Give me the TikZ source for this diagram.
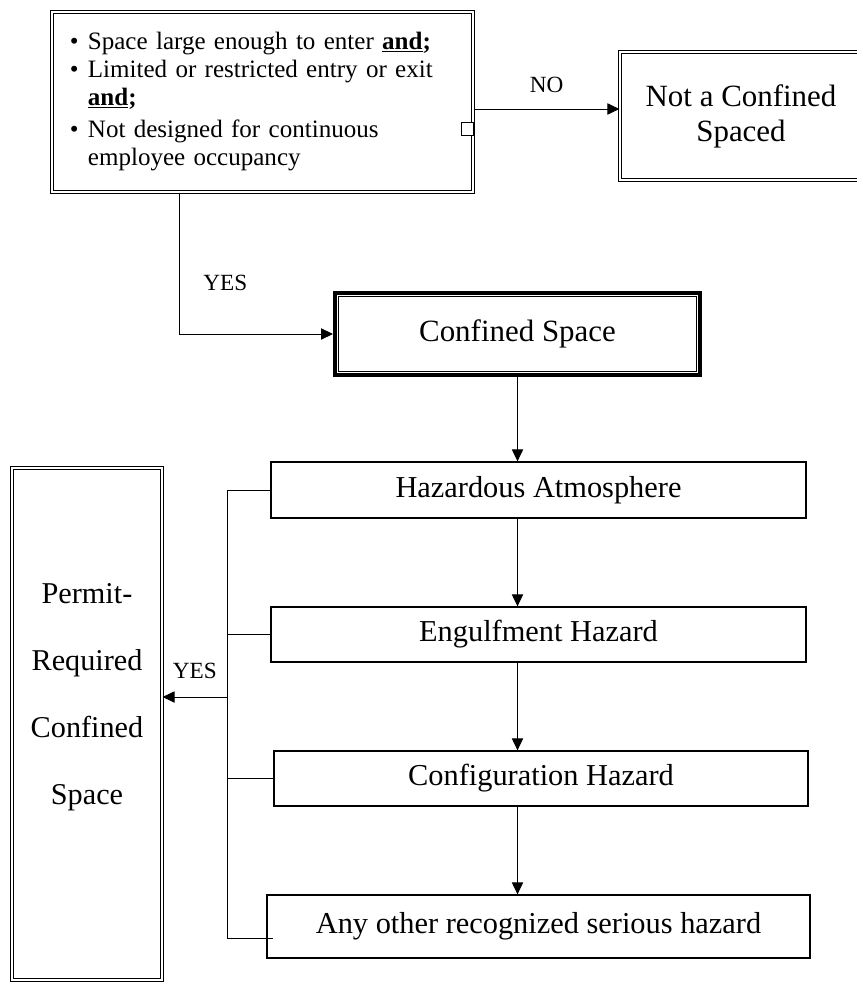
\documentclass[tikz,border=0pt]{standalone}
\usepackage{fontspec}
\setmainfont{Liberation Serif}
\usepackage{tikz}
\usetikzlibrary{arrows.meta, positioning, calc}

\begin{document}
\begin{tikzpicture}[
    x=0.025cm, y=-0.025cm,
    arr/.style={-{Triangle[length=8.5pt, width=8pt]}, line width=0.7pt},
    link/.style={line width=0.7pt},
    twoline/.style={draw, double, line width=0.8pt, double distance=1pt},
    hazard/.style={draw, line width=0.9pt, minimum height=1.4cm, align=center,
                   font=\fontsize{21.6}{25}\selectfont},
    tag/.style={font=\fontsize{16.5}{19}\selectfont, inner sep=1pt},
  ]
    \useasboundingbox (0,0) rectangle (856,983);

    \node[twoline, minimum width=10.525cm, minimum height=4.5cm, inner xsep=0.45cm,
          text width=9.625cm, align=left, font=\fontsize{17.8}{20}\selectfont]
          (cond) at (262.5,102)
      {\begin{tabular}{@{}p{0.45cm}@{}l@{}}
         \textbullet & Space large enough to enter \textbf{\underline{and};}\\
         \textbullet & Limited or restricted entry or exit\\
                     & \textbf{\underline{and};}\\[3pt]
         \textbullet & Not designed for continuous\\
                     & employee occupancy
       \end{tabular}};
    \draw[fill=white, line width=0.6pt] ([shift={(-0.3cm,-0.5cm)}]cond.east)
      rectangle ([yshift=-0.825cm]cond.east);

    \node[twoline, minimum width=6.05cm, minimum height=3.2cm, align=center,
          font=\fontsize{22}{25}\selectfont] (notcs) at (741,116)
      {Not a Confined\\Spaced};

    \node[draw, line width=2.8pt, minimum width=9.125cm, minimum height=2.05cm,
          font=\fontsize{22}{25}\selectfont] (cs) at (517.5,334) {Confined Space};
    \draw[line width=0.7pt] ([shift={(3.9pt,-3.9pt)}]cs.north west)
      rectangle ([shift={(-3.9pt,3.9pt)}]cs.south east);

    \node[hazard, minimum width=13.375cm] (haz) at (538.5,490) {Hazardous Atmosphere};
    \node[hazard, minimum width=13.375cm, minimum height=1.375cm] (eng) at (538.5,634.5)
      {Engulfment Hazard};
    \node[hazard, minimum width=13.35cm, minimum height=1.375cm] (conf) at (541,778.5)
      {Configuration Hazard};
    \node[hazard, minimum width=13.575cm, minimum height=1.575cm] (other) at (538.5,926.5)
      {Any other recognized serious hazard};

    \node[twoline, minimum width=3.75cm, minimum height=12.8cm, align=center,
          text depth=1.5cm, font=\fontsize{21.5}{47.5}\selectfont] (prcs) at (87,724)
      {Permit-\\Required\\Confined\\Space};

    \draw[arr] ([yshift=-0.175cm]cond.east) -- ([yshift=-0.175cm]cond.east -| notcs.west)
      node[midway, above=0.35cm, tag] {NO};
    \draw[arr] ([xshift=3.2cm]cond.south west) |- (cs.west)
      node[pos=0.32, right=0.55cm, tag] {YES};

    \draw[arr] (cs.south) -- (cs.south |- haz.north);
    \draw[arr] (haz.south -| cs.south) -- (eng.north -| cs.south);
    \draw[arr] (eng.south -| cs.south) -- (conf.north -| cs.south);
    \draw[arr] (conf.south -| cs.south) -- (other.north -| cs.south);

    \coordinate (bus) at (227,697);
    \coordinate (tail) at ([shift={(0.175cm,-0.29cm)}]other.west);
    \draw[link] (haz.west) -- (haz.west -| bus) -- (bus |- tail) -- (tail);
    \draw[link] (eng.west) -- (eng.west -| bus);
    \draw[link] (conf.west) -- (conf.west -| bus);
    \draw[arr] (bus) -- (prcs.east |- bus) node[midway, above=0.4cm, tag] {YES};
  \end{tikzpicture}
\end{document}
